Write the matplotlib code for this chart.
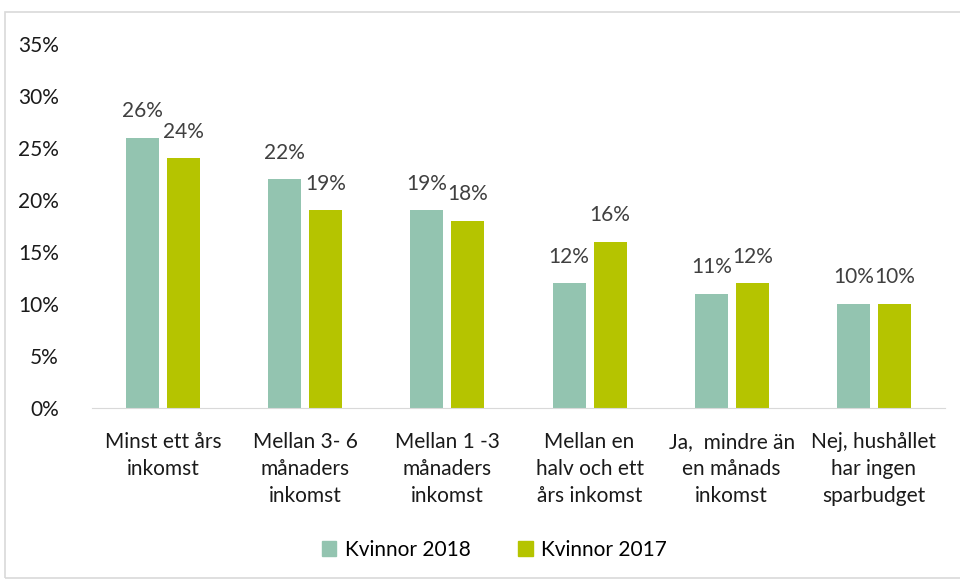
import matplotlib
matplotlib.use("Agg")
import matplotlib.pyplot as plt
from matplotlib.patches import Rectangle
import numpy as np

plt.rcParams['font.family'] = ['Lato', 'DejaVu Sans']

categories = ["Minst ett års\ninkomst", "Mellan 3- 6\nmånaders\ninkomst", "Mellan 1 -3\nmånaders\ninkomst",
              "Mellan en\nhalv och ett\nårs inkomst", "Ja,  mindre än\nen månads\ninkomst", "Nej, hushållet\nhar ingen\nsparbudget"]
series_names = ["Kvinnor 2018", "Kvinnor 2017"]
kv2018 = [26, 22, 19, 12, 11, 10]
kv2017 = [24, 19, 18, 16, 12, 10]
colors = ["#93C4B0", "#B5C400"]
yticks = [0, 5, 10, 15, 20, 25, 30, 35]

FS = 15

fig = plt.figure(figsize=(9.6, 5.81), dpi=100)
fig.patches.append(Rectangle((5/960, 0.005), 1.0, 1 - 12/581 - 0.005, transform=fig.transFigure,
                             fill=False, edgecolor="#D9D9D9", linewidth=1.2))
ax = fig.add_axes([92/960, 1 - 408/581, (945-92)/960, (408-44)/581])

x = np.arange(len(categories))
w = 0.232
off = 0.144
for vals, dx, c in [(kv2018, -off, colors[0]), (kv2017, off, colors[1])]:
    bars = ax.bar(x + dx, vals, width=w, color=c)
    for b, v in zip(bars, vals):
        ax.text(b.get_x() + b.get_width()/2, v + 1.6, f"{v}%", ha="center", va="bottom",
                fontsize=FS, color="#404040")

ax.set_xlim(-0.5, len(categories) - 0.5)
ax.set_ylim(0, 35)
ax.set_yticks(yticks)
ax.set_yticklabels([f"{t}%" for t in yticks], fontsize=FS, color="#1a1a1a")
ax.set_xticks(x)
ax.set_xticklabels(categories, fontsize=FS, color="#1a1a1a", linespacing=1.45)
ax.tick_params(axis="both", length=0)
ax.tick_params(axis="y", pad=24)
ax.tick_params(axis="x", pad=17)
for s in ["top", "right", "left"]:
    ax.spines[s].set_visible(False)
ax.spines["bottom"].set_color("#D9D9D9")

handles = [Rectangle((0, 0), 1, 1, color=c) for c in colors]
fig.legend(handles, series_names, loc="center", bbox_to_anchor=(0.515, 1 - 550/581), ncol=2,
           frameon=False, fontsize=FS, handlelength=0.7, handleheight=0.7, columnspacing=2.3,
           handletextpad=0.4)

fig.savefig("out.png", dpi=100)
